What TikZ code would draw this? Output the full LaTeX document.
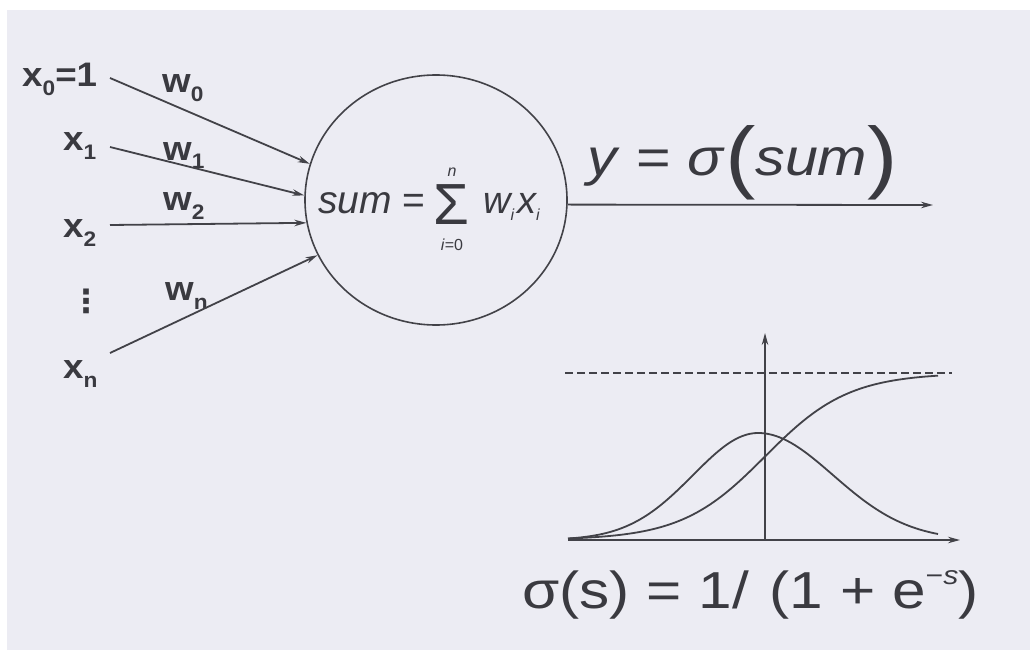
\documentclass[tikz,border=0pt]{standalone}
\usepackage{fontspec}
\setmainfont{Liberation Sans}
\newfontfamily\dejavu{DejaVu Sans}
\usetikzlibrary{arrows.meta,shapes.geometric}
\definecolor{bgc}{RGB}{236,236,243}
\definecolor{ink}{RGB}{58,58,64}
\definecolor{linec}{RGB}{66,66,72}
\newcommand\lsub[1]{\raisebox{-9pt}{\fontsize{21}{21}\selectfont #1}}
\newcommand\ssub[1]{\raisebox{-7pt}{\fontsize{16}{16}\selectfont\itshape #1}\hspace{3pt}}
\tikzset{
  inlabel/.style={anchor=base west,inner sep=0pt,text=ink,font=\fontsize{34}{34}\selectfont\bfseries,xscale=1.08},
  wire/.style={draw=linec,line width=1.8pt,-{Stealth[length=12pt,width=6.5pt]}},
  plain/.style={inner sep=0pt,text=ink},
  curve/.style={draw=linec,line width=1.8pt}
}
\begin{document}
\begin{tikzpicture}[x=1pt,y=-1pt]
\useasboundingbox (0,0) rectangle (1030,650);
\fill[white] (0,0) rectangle (1030,650);
\fill[bgc] (7,10) rectangle (1030,650);
% neuron
\node[draw=linec,line width=1.6pt,ellipse,minimum width=262pt,minimum height=250pt,inner sep=0pt] (n) at (436,200) {};
% inputs
\node[inlabel] (x0) at (22,87) {x\lsub{0}=1};
\node[inlabel] (x1) at (63,150) {x\lsub{1}};
\node[inlabel] (x2) at (63,237) {x\lsub{2}};
\node[plain,font=\dejavu\bfseries\fontsize{32}{32}\selectfont] (vd) at (86,301) {⋮};
\node[inlabel] (xn) at (63,378) {x\lsub{n}};
\node[inlabel] (w0) at (162,93) {w\lsub{0}};
\node[inlabel] (w1) at (163,160) {w\lsub{1}};
\node[inlabel] (w2) at (163,210) {w\lsub{2}};
\node[inlabel] (wn) at (165,300) {w\lsub{n}};
\coordinate (s0) at (110,78);
\coordinate (s1) at (110,147);
\coordinate (s2) at (110,225);
\coordinate (sn) at (110,353);
\draw[wire] (s0) -- (n.164);
\draw[wire] (s1) -- (n.178);
\draw[wire] (s2) -- (n.190.6);
\draw[wire] (sn) -- (n.205);
% formula inside
\node[plain,anchor=base west,font=\fontsize{39}{39}\selectfont] (sumtxt) at (318,213) {\textit{sum} =};
\node[plain,font=\fontsize{58}{58}\selectfont,text height=41pt,text depth=0pt] (sig) at (451,204) {Σ};
\node[plain,font=\fontsize{16}{16}\selectfont\itshape] (up) at (452,172) {n};
\node[plain,font=\fontsize{16}{16}\selectfont] (lo) at (452,245) {\textit{i}=0};
\node[plain,anchor=base west,font=\fontsize{38}{38}\selectfont\itshape] (wx) at (483,213) {w\ssub{i}x\ssub{i}};
% output
\coordinate (out) at (933,205);
\draw[wire] (n.-2) -- (out);
\node[plain,anchor=base west,font=\fontsize{52}{52}\selectfont,xscale=1.14] (y) at (587,175)
  {\textit{y} = \textit{σ}\raisebox{-9pt}{\fontsize{80}{80}\selectfont(}\textit{sum}\raisebox{-9pt}{\fontsize{80}{80}\selectfont)}};
% graph
\coordinate (ox) at (568,540);
\coordinate (xe) at (960,540);
\coordinate (oy) at (765,540);
\coordinate (ye) at (765,333);
\draw[wire] (ox) -- (xe);
\draw[wire] (oy) -- (ye);
\draw[draw=linec,line width=1.4pt,dash pattern=on 8pt off 4pt] (565,373) -- (952,373);
\draw[curve] plot[domain=568:938,samples=90,smooth] (\x,{540-167/(1+exp(-(\x-765)/42))});
\draw[curve] plot[domain=568:758,samples=50,smooth] (\x,{540-107*exp(-0.5*((\x-758)/65)^2)})
  -- plot[domain=758:938,samples=50,smooth] (\x,{540-107*exp(-0.5*((\x-758)/75)^2)});
\node[plain,anchor=base west,font=\fontsize{52}{52}\selectfont,xscale=1.16] (f) at (522,608)
  {σ(s) = 1/\hspace{18pt}(1 + e\raisebox{24pt}{\fontsize{26}{26}\selectfont −\textit{s}})};
\end{tikzpicture}
\end{document}
